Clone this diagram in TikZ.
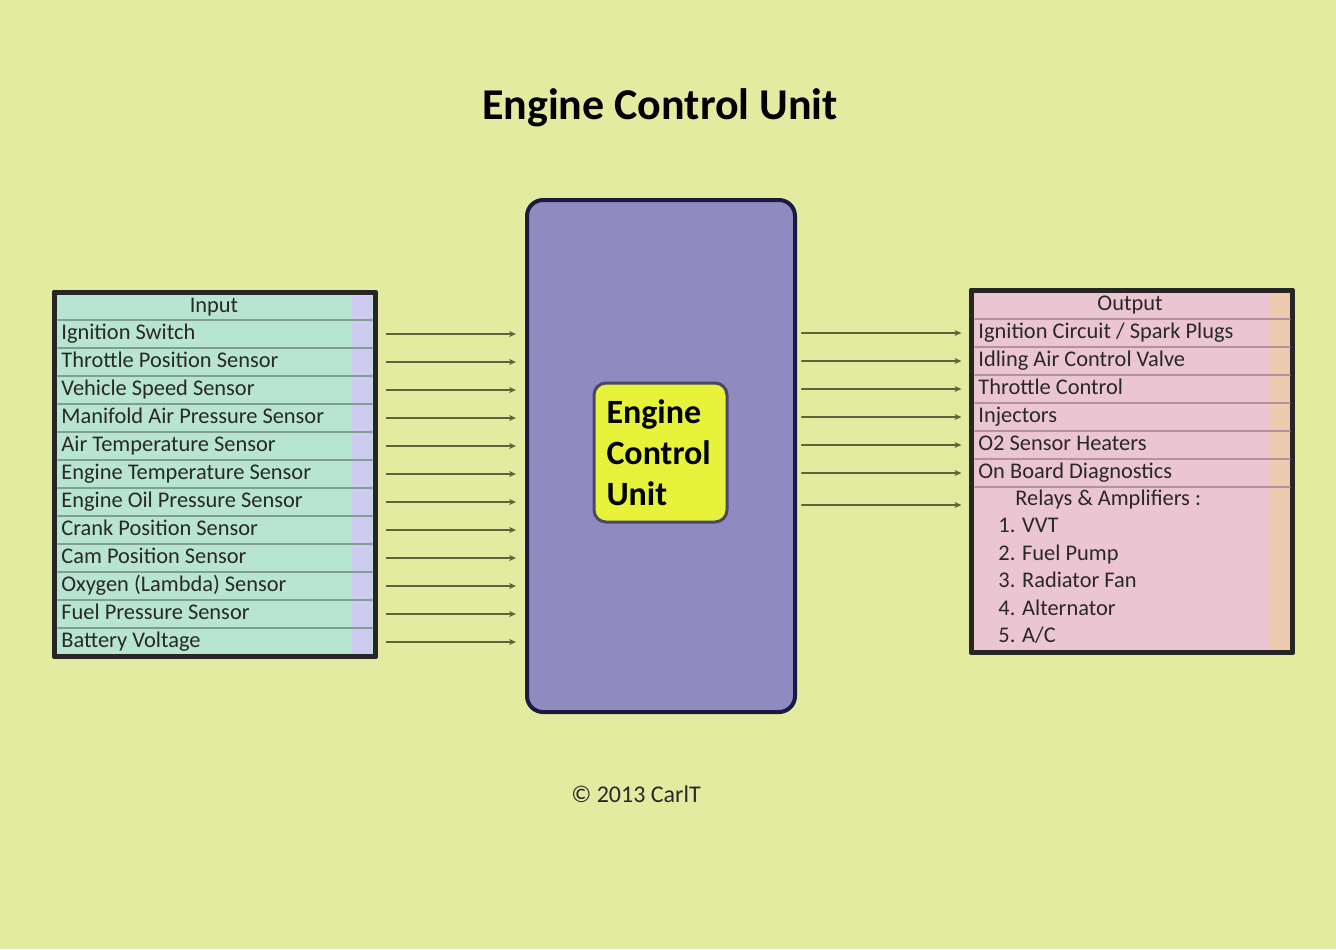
\documentclass[tikz,border=0pt]{standalone}
\usepackage{fontspec}
\setmainfont{Carlito}
\usetikzlibrary{arrows.meta,positioning}
\definecolor{bgyellow}{RGB}{226,235,160}
\definecolor{ecufill}{RGB}{143,139,192}
\definecolor{ecuedge}{RGB}{28,26,66}
\definecolor{corefill}{RGB}{230,243,58}
\definecolor{infill}{RGB}{184,228,210}
\definecolor{instrip}{RGB}{206,202,240}
\definecolor{inline}{RGB}{128,158,150}
\definecolor{outfill}{RGB}{236,197,210}
\definecolor{outstrip}{RGB}{238,203,174}
\definecolor{outline}{RGB}{178,146,158}
\definecolor{wirecol}{RGB}{92,98,58}
\definecolor{inkcol}{RGB}{40,40,40}

\begin{document}
\begin{tikzpicture}[x=0.5pt,y=-0.5pt,line cap=round,line join=round,
  rowtext/.style={anchor=west,inner sep=0pt,text height=8pt,text depth=2.6pt,
    text=inkcol,font=\fontsize{11.2}{13}\selectfont},
  listbox/.style={draw=black!85,line width=1.6pt,minimum width=160pt,inner sep=0pt},
  wire/.style={draw=wirecol,line width=1.1pt,-{Stealth[length=3.5pt,width=3pt]}}]
  \useasboundingbox (0,0) rectangle (1336,949);
  \fill[bgyellow] (0,0) rectangle (1336,949);

  % title
  \node (title) at (660,108) {\fontsize{22}{26}\selectfont\bfseries Engine Control Unit};

  % central unit
  \node (ecu) [draw=ecuedge,fill=ecufill,line width=2pt,rounded corners=8pt,
    minimum width=134pt,minimum height=256pt] at (661,456) {};
  \node (core) [draw=ecuedge!80,fill=corefill,line width=1.5pt,rounded corners=6pt,
    minimum width=66.5pt,minimum height=69.5pt,text width=54pt,inner sep=6pt,align=left,
    font=\fontsize{17}{20.5}\selectfont\bfseries] at (660.5,452.5) {Engine\\Control\\Unit};

  % inputs
  \node (inbox) [listbox,fill=infill,minimum height=181.5pt] at (215,474.5) {};
  \fill[instrip] (352,296) rectangle (372,654);
  \node (inhead) [rowtext,anchor=center] at (214,307) {Input};
  \foreach \txt [count=\i] in {Ignition Switch,Throttle Position Sensor,Vehicle Speed Sensor,
      Manifold Air Pressure Sensor,Air Temperature Sensor,Engine Temperature Sensor,
      Engine Oil Pressure Sensor,Crank Position Sensor,Cam Position Sensor,
      Oxygen (Lambda) Sensor,Fuel Pressure Sensor,Battery Voltage} {
    \draw[inline,line width=0.8pt] (58,320+28*\i-28) -- (372,320+28*\i-28);
    \node (in\i) [rowtext] at (61,306+28*\i) {\txt};
    \draw[wire] ([xshift=5pt]in\i -| inbox.east) -- ([xshift=-4.5pt]in\i -| ecu.west);
  }
  \draw[draw=black!85,line width=1.6pt] (inbox.south west) rectangle (inbox.north east);

  % outputs
  \node (outbox) [listbox,fill=outfill,minimum height=180.5pt] at (1132,471.5) {};
  \fill[outstrip] (1270,294) rectangle (1290,650);
  \node (outhead) [rowtext,anchor=center] at (1130,305) {Output};
  \foreach \txt [count=\i] in {Ignition Circuit / Spark Plugs,Idling Air Control Valve,
      Throttle Control,Injectors,O2 Sensor Heaters,On Board Diagnostics} {
    \draw[outline,line width=0.8pt] (975,319+28*\i-28) -- (1290,319+28*\i-28);
    \node (out\i) [rowtext] at (978,305+28*\i) {\txt};
    \draw[wire] ([xshift=2.5pt]out\i -| ecu.east) -- ([xshift=-4.5pt]out\i -| outbox.west);
  }
  \draw[outline,line width=0.8pt] (975,487) -- (1290,487);
  \node (relays) [rowtext] at (1015,500) {Relays \& Amplifiers :};
  \draw[wire] ([xshift=2.5pt,yshift=-2.5pt]relays.west -| ecu.east)
    -- ([xshift=-4.5pt,yshift=-2.5pt]relays.west -| outbox.west);
  \foreach \txt [count=\i] in {VVT,Fuel Pump,Radiator Fan,Alternator,A/C}
    \node (relay\i) [rowtext] at (998,500+27.5*\i) {\i. \txt};
  \draw[draw=black!85,line width=1.6pt] (outbox.south west) rectangle (outbox.north east);

  % note
  \node (note) [rowtext,anchor=center,font=\fontsize{12}{14}\selectfont] at (636,797) {\textcopyright\ 2013 CarlT};
\end{tikzpicture}
\end{document}
